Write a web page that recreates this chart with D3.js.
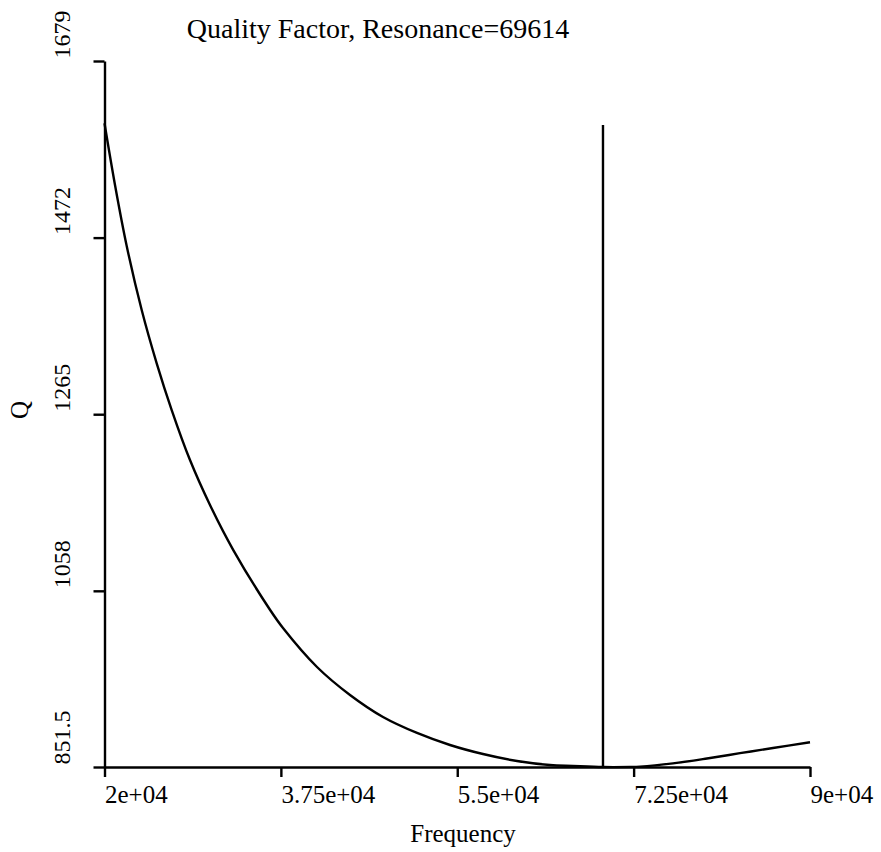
<!DOCTYPE html>
<html>
<head>
<meta charset="utf-8">
<script src="https://d3js.org/d3.v7.min.js"></script>
<style>
	body { margin: 0; background: #fff; }
	text { font-family: "Liberation Serif", "Times New Roman", serif; fill: #000; }
</style>
</head>
<body>
<script type="text/javascript">
	"use strict";

	// data
	var frequency = [20000, 21042, 22203, 23691, 25179, 26668, 28483, 30468, 32780, 36436,
		37711, 41084, 44359, 47633, 51006, 54281, 57555, 60928, 64202, 66484,
		69461, 72140, 73132, 76405, 79778, 83052, 86327, 90000];
	var quality = [1606, 1533.7, 1462.2, 1387.1, 1324.7, 1269.9, 1211.3, 1158.6, 1105.8, 1035.5,
		1014.4, 968.7, 935.9, 910.1, 891.4, 877.3, 866.7, 858.5, 853.8, 852.7,
		851.5, 851.6, 852.0, 855.8, 861.5, 867.7, 873.8, 880.5];

	var xTicks = [20000, 37500, 55000, 72500, 90000];
	var xTickLabels = ["2e+04", "3.75e+04", "5.5e+04", "7.25e+04", "9e+04"];
	var yTicks = [851.5, 1058, 1265, 1472, 1679];
	var yTickLabels = ["851.5", "1058", "1265", "1472", "1679"];

	// resonance marker (line position as drawn)
	var resonance = 69614;
	var markerFreq = 69460;
	var markerQ = [851.5, 1604];

	function draw() {
		var width = 881, height = 852;
		var mLeft = 104.5, mRight = 810, mTop = 61, mBottom = 767;

		var svg = d3.select("body")
					.append("svg")
					.attr("width", width)
					.attr("height", height);

		var x = d3.scaleLinear().domain([20000, 90000]).range([mLeft, mRight]);
		var y = d3.scaleLinear().domain([851.5, 1679]).range([mBottom, mTop]);

		// x axis
		var xAxis = svg.append("g")
					.attr("transform", "translate(0," + mBottom + ")")
					.call(d3.axisBottom(x)
						.tickValues(xTicks)
						.tickFormat(function(d, i) { return xTickLabels[i]; })
						.tickSize(10)
						.tickSizeOuter(0));
		xAxis.selectAll("text")
					.attr("y", 36)
					.attr("dy", 0)
					.attr("text-anchor", "start")
					.attr("font-size", "25px");

		// y axis, labels turned on their side
		var yAxis = svg.append("g")
					.attr("transform", "translate(" + mLeft + ",0)")
					.call(d3.axisLeft(y)
						.tickValues(yTicks)
						.tickFormat(function(d, i) { return yTickLabels[i]; })
						.tickSize(11)
						.tickSizeOuter(0));
		yAxis.selectAll("text")
					.attr("transform", "rotate(-90)")
					.attr("x", 3)
					.attr("y", -35)
					.attr("dy", 0)
					.attr("text-anchor", "start")
					.attr("font-size", "24px");

		svg.selectAll(".domain, .tick line")
					.style("stroke", "#000")
					.style("stroke-width", 2.4);
		svg.selectAll(".tick text").style("font-family", "Liberation Serif");

		// Q curve
		var line = d3.line()
					.x(function(d, i) { return x(frequency[i]); })
					.y(function(d) { return y(d); })
					.curve(d3.curveCatmullRom.alpha(0.5));

		svg.append("path")
					.datum(quality)
					.attr("d", line)
					.style("fill", "none")
					.style("stroke", "#000")
					.style("stroke-width", 2.4);

		// resonance line
		svg.append("line")
					.attr("x1", x(markerFreq))
					.attr("x2", x(markerFreq))
					.attr("y1", y(markerQ[0]))
					.attr("y2", y(markerQ[1]))
					.style("stroke", "#000")
					.style("stroke-width", 2.4);

		// titles
		svg.append("text")
					.attr("x", 378)
					.attr("y", 38)
					.attr("text-anchor", "middle")
					.attr("font-size", "28px")
					.text("Quality Factor, Resonance=" + resonance);

		svg.append("text")
					.attr("x", 463)
					.attr("y", 842)
					.attr("text-anchor", "middle")
					.attr("font-size", "25px")
					.text("Frequency");

		svg.append("text")
					.attr("transform", "translate(28,410) rotate(-90)")
					.attr("text-anchor", "middle")
					.attr("font-size", "25px")
					.text("Q");
	}

	draw();
</script>
</body>
</html>
